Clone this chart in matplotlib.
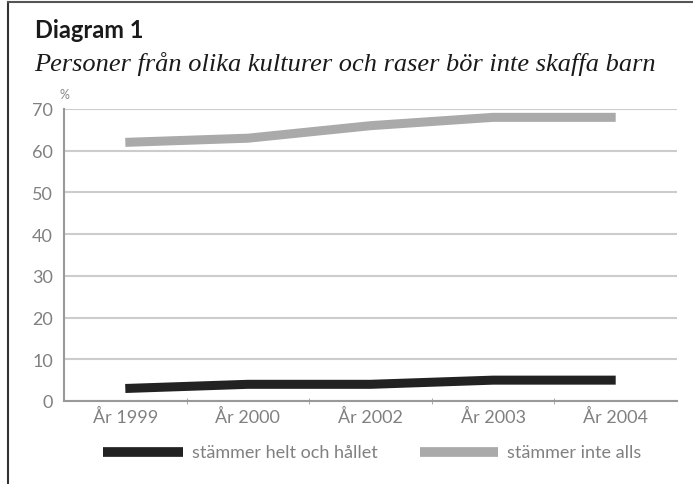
import numpy as np
import matplotlib.pyplot as plt
from matplotlib.lines import Line2D

# Data
years = ['År 1999', 'År 2000', 'År 2002', 'År 2003', 'År 2004']
helt = [3, 4, 4, 5, 5]          # stämmer helt och hållet
inte_alls = [62, 63, 66, 68, 68]  # stämmer inte alls
yticks = [0, 10, 20, 30, 40, 50, 60, 70]
series_names = ['stämmer helt och hållet', 'stämmer inte alls']

W, H = 693, 485
fig = plt.figure(figsize=(W / 100, H / 100), dpi=100)

# outer frame (top and left edge)
fig.add_artist(Line2D([8/W, 8/W], [0, 1 - 3/H], transform=fig.transFigure,
                      color='#333333', lw=1.5))
fig.add_artist(Line2D([8/W, 1], [1 - 3/H, 1 - 3/H], transform=fig.transFigure,
                      color='#555555', lw=1.5))

# titles
fig.text(35/W, 1 - 31/H, 'Diagram 1', fontsize=17, fontweight='bold',
         family='Lato', color='#1a1a1a', va='center', ha='left')
fig.text(34/W, 1 - 64/H, 'Personer från olika kulturer och raser bör inte skaffa barn',
         fontsize=19, style='italic', family='Liberation Serif', color='#1a1a1a',
         va='center', ha='left')
fig.text(60/W, 1 - 95/H, '%', fontsize=9, family='Lato',
         color='#888888', va='center', ha='left')

ax = fig.add_axes([64/W, 1 - 402/H, (677 - 64)/W, (402 - 110)/H])
x = np.arange(len(years))
ax.plot(x, inte_alls, color='#aaaaaa', lw=6.5, solid_capstyle='butt', zorder=3)
ax.plot(x, helt, color='#222222', lw=6.5, solid_capstyle='butt', zorder=3)

ax.set_xlim(-0.5, len(years) - 0.5)
ax.set_ylim(0, 70)
ax.set_yticks(yticks)
ax.set_xticks(x)
ax.set_xticklabels(years)
ax.set_xticks(x[:-1] + 0.5, minor=True)
ax.yaxis.grid(True, color='#cccccc', lw=1.5)
ax.set_axisbelow(True)

for s in ['top', 'right']:
    ax.spines[s].set_visible(False)
for s in ['left', 'bottom']:
    ax.spines[s].set_color('#999999')
    ax.spines[s].set_linewidth(1.5)

ax.tick_params(axis='y', length=0, pad=8, labelsize=13, labelcolor='#808080')
ax.tick_params(axis='x', which='major', length=0, pad=5, labelsize=13, labelcolor='#808080')
ax.tick_params(axis='x', which='minor', length=4, direction='inout', color='#999999')
for lab in ax.get_xticklabels() + ax.get_yticklabels():
    lab.set_family('Lato')

# legend, drawn by hand so the swatches sit where the reference has them
legend_y = 1 - 453/H
swatches = [(103, 183, '#222222'), (420, 498, '#aaaaaa')]
for (x0, x1, col), name in zip(swatches, series_names):
    fig.add_artist(Line2D([x0/W, x1/W], [legend_y, legend_y], transform=fig.transFigure,
                          color=col, lw=7, solid_capstyle='butt'))
    fig.text((x1 + 9)/W, legend_y, name, fontsize=13, family='Lato',
             color='#808080', va='center', ha='left')

fig.savefig('out.png', dpi=100)
